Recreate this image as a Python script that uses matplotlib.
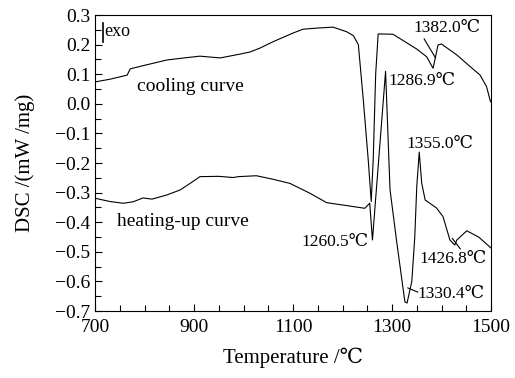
import numpy as np
import matplotlib.pyplot as plt
from matplotlib.ticker import MultipleLocator, FixedLocator, FuncFormatter

plt.rcParams['font.family'] = ['Liberation Serif', 'DejaVu Serif', 'DejaVu Sans']

# cooling curve (upper trace)
cool_t = [700, 730, 765, 771, 800, 845, 880, 912, 953, 993, 1013, 1033, 1060, 1100,
          1120, 1150, 1181, 1209, 1222, 1232, 1242, 1252, 1258, 1262, 1267, 1272,
          1302, 1326, 1350, 1370, 1383, 1393, 1400, 1431, 1455, 1478, 1491, 1499]
cool_y = [0.074, 0.083, 0.097, 0.118, 0.13, 0.148, 0.155, 0.161, 0.155, 0.168, 0.175,
          0.188, 0.21, 0.239, 0.252, 0.256, 0.259, 0.243, 0.23, 0.2, 0.013, -0.19,
          -0.33, -0.19, 0.1, 0.236, 0.235, 0.21, 0.185, 0.159, 0.12, 0.199, 0.202,
          0.165, 0.13, 0.097, 0.058, 0.007]

# heating-up curve (lower trace)
heat_t = [700, 730, 757, 777, 797, 815, 845, 872, 892, 912, 950, 979, 990, 1026,
          1060, 1094, 1134, 1168, 1201, 1245, 1255, 1260.5, 1287, 1296, 1309, 1326,
          1330.4, 1340, 1346, 1350, 1355, 1360, 1367, 1390, 1403, 1417, 1426.8, 1431,
          1451, 1475, 1500]
heat_y = [-0.319, -0.33, -0.336, -0.331, -0.318, -0.322, -0.308, -0.291, -0.269,
          -0.246, -0.245, -0.249, -0.246, -0.243, -0.255, -0.269, -0.302, -0.334,
          -0.342, -0.353, -0.336, -0.46, 0.11, -0.29, -0.46, -0.669, -0.673, -0.6,
          -0.45, -0.28, -0.163, -0.268, -0.325, -0.352, -0.381, -0.46, -0.477, -0.46,
          -0.429, -0.45, -0.487]

x_ticks = [700, 900, 1100, 1300, 1500]

fig = plt.figure(figsize=(5.15, 3.78), dpi=100)
ax = fig.add_axes([0.1845, 0.1772, 0.7689, 0.7831])

ax.plot(cool_t, cool_y, color='black', lw=0.8)
ax.plot(heat_t, heat_y, color='black', lw=0.8)

ax.set_xlim(700, 1500)
ax.set_ylim(-0.7, 0.3)
ax.xaxis.set_major_locator(FixedLocator(x_ticks))
ax.xaxis.set_minor_locator(MultipleLocator(50))
ax.yaxis.set_major_locator(MultipleLocator(0.1))
ax.yaxis.set_minor_locator(MultipleLocator(0.05))
ax.yaxis.set_major_formatter(FuncFormatter(lambda v, p: f'{v:.1f}'.replace('-', '\u2212')))
ax.tick_params(which='both', direction='in', top=False, right=False, labelsize=14)
ax.tick_params(which='major', length=5, width=0.8)
ax.tick_params(which='minor', length=4, width=0.8)
ax.tick_params(axis='x', pad=6)
for s in ax.spines.values():
    s.set_linewidth(0.8)

ax.set_xlabel('Temperature /\u2103', fontsize=15, labelpad=8)
ax.set_ylabel('DSC /(mW /mg)', fontsize=15, labelpad=14)

fs = 12.5
ax.plot([716, 716], [0.209, 0.273], color='black', lw=1.2)
ax.text(719, 0.245, 'exo', fontsize=13, va='center', ha='left')
ax.text(785, 0.057, 'cooling curve', fontsize=14, va='center', ha='left')
ax.text(744, -0.399, 'heating-up curve', fontsize=14, va='center', ha='left')

ax.text(1344, 0.255, '1382.0\u2103', fontsize=fs, va='center', ha='left')
ax.plot([1365, 1388], [0.219, 0.155], color='black', lw=0.8)
ax.text(1292, 0.077, '1286.9\u2103', fontsize=fs, va='center', ha='left')
ax.text(1330, -0.136, '1355.0\u2103', fontsize=fs, va='center', ha='left')
ax.text(1252, -0.467, '1260.5\u2103', fontsize=fs, va='center', ha='right')
ax.text(1356, -0.524, '1426.8\u2103', fontsize=fs, va='center', ha='left')
ax.plot([1422, 1438], [-0.455, -0.49], color='black', lw=0.8)
ax.text(1352, -0.643, '1330.4\u2103', fontsize=fs, va='center', ha='left')
ax.plot([1332, 1352], [-0.622, -0.636], color='black', lw=0.8)

fig.savefig('out.png', dpi=100)
